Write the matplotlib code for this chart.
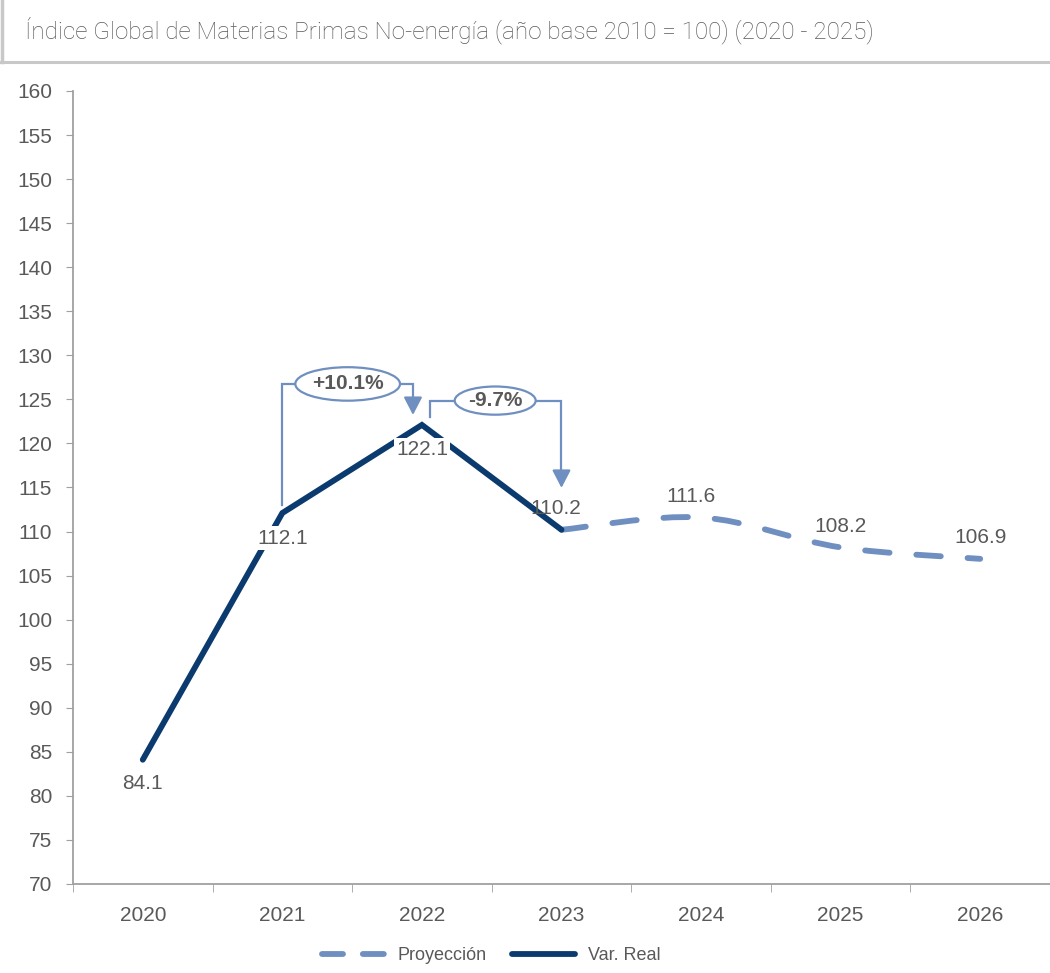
import matplotlib
matplotlib.use("Agg")
import matplotlib.pyplot as plt
from matplotlib.path import Path
from matplotlib.patches import PathPatch, Ellipse
from matplotlib.lines import Line2D
import numpy as np

years = ["2020", "2021", "2022", "2023", "2024", "2025", "2026"]
real_vals = [84.1, 112.1, 122.1, 110.2]
proj_vals = [110.2, 111.6, 108.2, 106.9]
proj_start = 3
yticks = list(range(70, 161, 5))
title = "Índice Global de Materias Primas No-energía (año base 2010 = 100) (2020 - 2025)"
changes = ["+10.1%", "-9.7%"]

DARK = "#0B3A6E"
LIGHT = "#6F8FC0"
GRAY = "#595959"
AXC = "#A0A0A0"

plt.rcParams['font.family'] = ['Liberation Sans', 'DejaVu Sans']

fig = plt.figure(figsize=(10.5, 9.73), dpi=100)
ax = fig.add_axes([0.0695, 0.0915, 0.9305, 0.815])

xr = np.arange(len(real_vals))
ax.plot(xr, real_vals, color=DARK, lw=4.2, solid_capstyle='round', solid_joinstyle='miter', zorder=3)

# smooth projection (Catmull-Rom -> Bezier through data points)
xp = np.arange(proj_start, proj_start + len(proj_vals))
pts = np.column_stack([xp, proj_vals]).astype(float)
verts = [tuple(pts[0])]
codes = [Path.MOVETO]
n = len(pts)
for i in range(n - 1):
    p0 = pts[i - 1] if i > 0 else pts[i]
    p1 = pts[i]
    p2 = pts[i + 1]
    p3 = pts[i + 2] if i + 2 < n else pts[i + 1]
    c1 = p1 + (p2 - p0) / 6.0
    c2 = p2 - (p3 - p1) / 6.0
    verts += [tuple(c1), tuple(c2), tuple(p2)]
    codes += [Path.CURVE4] * 3
patch = PathPatch(Path(verts, codes), fill=False, edgecolor=LIGHT, lw=4.2,
                  linestyle=(0, (4.2, 4.6)), capstyle='round', zorder=2)
ax.add_patch(patch)

# data labels
lab_kw = dict(ha='center', va='center', fontsize=15, color=GRAY, zorder=5)
ax.annotate(f"{real_vals[0]}", (0, real_vals[0]), xytext=(0, -24), textcoords='offset pixels', **lab_kw)
ax.annotate(f"{real_vals[1]}", (1, real_vals[1]), xytext=(0, -25), textcoords='offset pixels',
            bbox=dict(boxstyle='square,pad=0.1', fc='white', ec='none'), **lab_kw)
ax.annotate(f"{real_vals[2]}", (2, real_vals[2]), xytext=(0, -25), textcoords='offset pixels',
            bbox=dict(boxstyle='square,pad=0.1', fc='white', ec='none'), **lab_kw)
for i, v in enumerate(proj_vals):
    xx = proj_start + i
    dx = -6 if i == 0 else (-10 if i == 1 else 0)
    ax.annotate(f"{v}", (xx, v), xytext=(dx, 21), textcoords='offset pixels', **lab_kw)

ax.set_xlim(-0.5, 6.5)
ax.set_ylim(70, 160)
ax.set_yticks(yticks)
ax.set_xticks(range(len(years)))
ax.set_xticklabels(years)
ax.set_xticks(np.arange(-0.5, 6.6, 1), minor=True)
ax.tick_params(axis='x', which='major', length=0, pad=16, labelsize=15, labelcolor=GRAY)
ax.tick_params(axis='x', which='minor', length=6, color=AXC, direction='out')
ax.tick_params(axis='y', length=5, color=AXC, labelsize=15, labelcolor=GRAY, pad=10)
for s in ['top', 'right']:
    ax.spines[s].set_visible(False)
for s in ['left', 'bottom']:
    ax.spines[s].set_color(AXC)
    ax.spines[s].set_linewidth(1.3)

# bracket annotations
def bracket(x0, y0, ytop, x1, ytip, label, ex, ew, eh):
    ax.plot([x0, x0, x1, x1], [y0, ytop, ytop, ytip + 1.2], color=LIGHT, lw=1.6, zorder=4,
            solid_joinstyle='miter')
    ax.annotate("", xy=(x1, ytip), xytext=(0, 16), textcoords='offset pixels',
                arrowprops=dict(arrowstyle='-|>,head_length=0.54,head_width=0.28',
                                mutation_scale=20, color=LIGHT, lw=1.6,
                                shrinkA=0, shrinkB=0), zorder=4)
    ax.add_patch(Ellipse((ex, ytop), ew, eh, facecolor='white', edgecolor=LIGHT, lw=1.6, zorder=5))
    ax.text(ex, ytop, label, ha='center', va='center', fontsize=15, fontweight='bold',
            color=GRAY, zorder=6)

bracket(1.0, 113.0, 126.75, 1.936, 123.23, changes[0], 1.468, 0.75, 3.8)
bracket(2.057, 122.98, 124.86, 3.0, 114.95, changes[1], 2.525, 0.58, 3.2)

# legend
handles = [Line2D([], [], color=LIGHT, lw=4.2, linestyle=(0, (3.6, 3.4)),
                  dash_capstyle='round'),
           Line2D([], [], color=DARK, lw=4.2, solid_capstyle='round')]
fig.legend(handles, ["Proyección", "Var. Real"], loc='center', bbox_to_anchor=(0.468, 0.018),
           ncol=2, frameon=False, fontsize=13, handlelength=3.5, columnspacing=1.4,
           handletextpad=0.7, labelcolor=GRAY)

# title frame
fig.text(0.024, 0.969, title, fontsize=17.5, family=['Roboto', 'DejaVu Sans'], fontweight='light',
         color=GRAY, va='center', ha='left')
fig.add_artist(Line2D([0, 1], [0.9365, 0.9365], transform=fig.transFigure, color='#C8C8C8', lw=2.2))
fig.add_artist(Line2D([0.0015, 0.0015], [0.9365, 1.0], transform=fig.transFigure, color='#C8C8C8', lw=2.5))

fig.savefig("out.png", dpi=100)
